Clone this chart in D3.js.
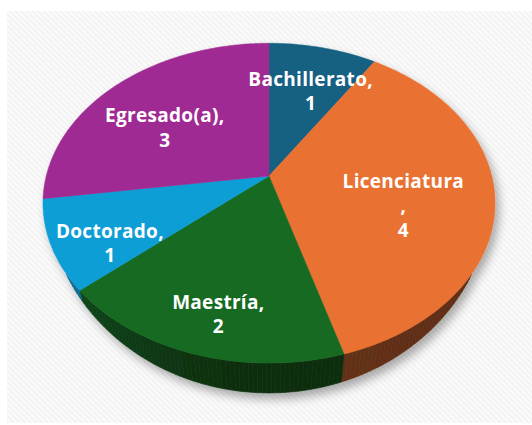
<!DOCTYPE html>
<html>
<head>
<meta charset="utf-8">
<script src="https://cdn.jsdelivr.net/npm/d3@7"></script>
<style>
  body { margin: 0; background: #fff; }
  svg { display: block; }
</style>
</head>
<body>
<div id="chart"></div>
<script>
// data
const categories = ['Bachillerato', 'Licenciatura', 'Maestría', 'Doctorado', 'Egresado(a)']
const values = [1, 4, 2, 1, 3]
const colors = ['#156082', '#E97132', '#196B24', '#0F9ED5', '#A02B93']
// labels that Excel broke before the comma
const wrapBeforeComma = ['Licenciatura']

const width = 532,
  height = 425

// simple perspective camera looking down on a unit disc
const cam = {
  cx: 269, cy: 176, // where the disc centre lands
  f: 940, // focal length in px
  dist: 4.22, // camera distance (disc radius = 1)
  tilt: 44.2 * Math.PI / 180, // elevation
  depth: 0.2 // thickness of the pie
}
const sA = Math.sin(cam.tilt),
  cA = Math.cos(cam.tilt)

// theta: 0 at the far side, clockwise; r: radius 0..1; y: 0 top face, -depth bottom
function project(theta, r, y) {
  const X = r * Math.sin(theta),
    Z = r * Math.cos(theta)
  const yc = Z * sA + y * cA
  const d = cam.dist + Z * cA - y * sA
  return [cam.cx + cam.f * X / d, cam.cy - cam.f * yc / d]
}

const svg = d3
  .select('#chart')
  .append('svg')
  .attr('width', width)
  .attr('height', height)

const defs = svg.append('defs')

// striped chart area background
const pat = defs
  .append('pattern')
  .attr('id', 'stripes')
  .attr('width', 4)
  .attr('height', 4)
  .attr('patternUnits', 'userSpaceOnUse')
  .attr('patternTransform', 'rotate(-45)')
pat.append('rect').attr('width', 4).attr('height', 4).attr('fill', '#f3f3f3')
pat.append('rect').attr('width', 2).attr('height', 4).attr('fill', '#fbfbfb')

const shadow = defs
  .append('filter')
  .attr('id', 'shadow')
  .attr('x', '-20%')
  .attr('y', '-20%')
  .attr('width', '140%')
  .attr('height', '140%')
shadow
  .append('feDropShadow')
  .attr('dx', 4)
  .attr('dy', 6)
  .attr('stdDeviation', 5)
  .attr('flood-color', '#000')
  .attr('flood-opacity', 0.32)

svg
  .append('rect')
  .attr('x', 7)
  .attr('y', 11)
  .attr('width', width - 7)
  .attr('height', 412)
  .attr('fill', 'url(#stripes)')

const data = categories.map((c, i) => ({ name: c, value: values[i], color: colors[i] }))
const arcs = d3.pie().sort(null).value(d => d.value)(data)

const line = d3.line()
const step = Math.PI / 180
const g = svg.append('g').attr('filter', 'url(#shadow)')

// side wall: Excel thins it out quickly towards the left/right edge
const c0 = 0.57
const wallDepth = t => {
  const m = (-Math.cos(t) - c0) / (1 - c0)
  return m <= 0 ? 0 : cam.depth * Math.pow(m, 0.7)
}
const thMin = Math.acos(-c0),
  thMax = 2 * Math.PI - thMin
// darker to the right, lighter to the left
const shade = d3.scaleLinear().domain([110, 190, 250]).range([2.6, 2.3, 0.6]).clamp(true)

arcs.forEach(a => {
  const a0 = Math.max(a.startAngle, thMin),
    a1 = Math.min(a.endAngle, thMax)
  if (a0 >= a1) return
  const n = Math.ceil((a1 - a0) / step)
  for (let k = 0; k < n; k++) {
    const t0 = a0 + (a1 - a0) * k / n,
      t1 = a0 + (a1 - a0) * (k + 1) / n
    const col = d3.color(a.data.color).darker(shade(((t0 + t1) / 2) * 180 / Math.PI))
    g.append('path')
      .attr('d', line([project(t0, 1, 0), project(t1, 1, 0), project(t1, 1, -wallDepth(t1)), project(t0, 1, -wallDepth(t0))]) + 'Z')
      .attr('fill', col)
      .attr('stroke', col)
      .attr('stroke-width', 0.6)
  }
})

// top faces
g.selectAll('path.top')
  .data(arcs)
  .join('path')
  .attr('class', 'top')
  .attr('fill', d => d.data.color)
  .attr('stroke', d => d.data.color)
  .attr('stroke-width', 0.5)
  .attr('d', d => {
    const pts = [project(0, 0, 0)]
    const n = Math.ceil((d.endAngle - d.startAngle) / step)
    for (let k = 0; k <= n; k++) {
      pts.push(project(d.startAngle + (d.endAngle - d.startAngle) * k / n, 1, 0))
    }
    return line(pts) + 'Z'
  })

// data labels, placed a bit past the slice centroid, half way down the slice
const fontSize = 19,
  lineH = 24.5
const labels = svg
  .selectAll('g.label')
  .data(arcs)
  .join('g')
  .attr('class', 'label')
  .attr('transform', d => {
    const span = d.endAngle - d.startAngle
    const r = 1.15 * 4 * Math.sin(span / 2) / (3 * span)
    const p = project((d.startAngle + d.endAngle) / 2, r, -cam.depth / 2)
    return `translate(${p[0]}, ${p[1]})`
  })

labels.each(function (d) {
  const lines = wrapBeforeComma.includes(d.data.name)
    ? [d.data.name, ',', String(d.data.value)]
    : [d.data.name + ',', String(d.data.value)]
  const first = -((lines.length - 1) * lineH) / 2 + fontSize * 0.36
  d3.select(this)
    .selectAll('text')
    .data(lines)
    .join('text')
    .attr('x', 0)
    .attr('y', (t, i) => first + i * lineH)
    .attr('text-anchor', 'middle')
    .attr('fill', '#fff')
    .style('font-family', '"Open Sans", sans-serif')
    .style('font-weight', 700)
    .style('font-size', fontSize + 'px')
    .style('letter-spacing', '0.3px')
    .text(t => t)
})
</script>
</body>
</html>
